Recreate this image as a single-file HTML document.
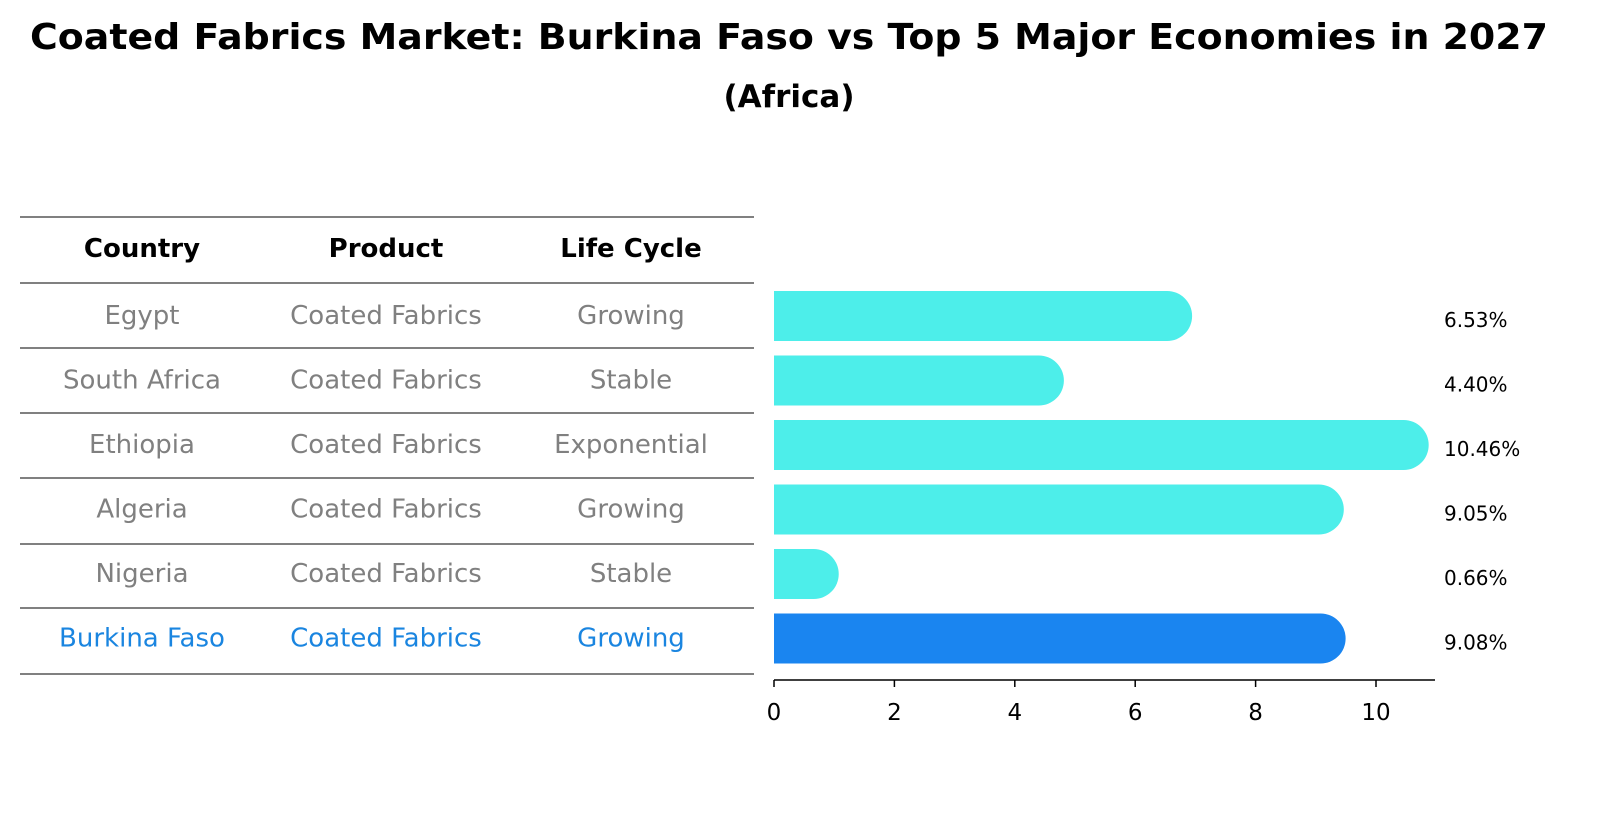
<!DOCTYPE html>
<html><head><meta charset="utf-8"><style>
body{margin:0;background:#fff;font-family:"Liberation Sans","DejaVu Sans",sans-serif}
</style></head><body>
<svg width="1605" height="823" xmlns="http://www.w3.org/2000/svg" font-family="DejaVu Sans, Liberation Sans, sans-serif">
<text x="789" y="49" text-anchor="middle" font-size="36" font-weight="bold" textLength="1518" lengthAdjust="spacingAndGlyphs">Coated Fabrics Market: Burkina Faso vs Top 5 Major Economies in 2027</text>
<text x="789" y="107" text-anchor="middle" font-size="31" font-weight="bold">(Africa)</text>
<g id="table"></g>
<g id="bars"></g>
<g id="axis"></g>
</svg>
<script>
const countries=["Egypt","South Africa","Ethiopia","Algeria","Nigeria","Burkina Faso"];
const products=["Coated Fabrics","Coated Fabrics","Coated Fabrics","Coated Fabrics","Coated Fabrics","Coated Fabrics"];
const lifeCycles=["Growing","Stable","Exponential","Growing","Stable","Growing"];
const values=[6.53,4.40,10.46,9.05,0.66,9.08];
const tickValues=[0,2,4,6,8,10];
const NS="http://www.w3.org/2000/svg";
function mk(t,a,p){const e=document.createElementNS(NS,t);for(const k in a)e.setAttribute(k,a[k]);p.appendChild(e);return e;}
const x=v=>774+v*60.2;
const rowY=i=>316+i*64.5;
const table=document.getElementById('table'),bars=document.getElementById('bars'),axis=document.getElementById('axis');
const lineYs=[217,283,348,413,478,544,608,674];
lineYs.forEach(y=>{const l=mk('line',{x1:20,x2:754,y1:y,y2:y,stroke:'#000','stroke-width':1},table);

});
const cols=[142,386,631];
["Country","Product","Life Cycle"].forEach((h,j)=>{const t=mk('text',{x:cols[j],y:257,'text-anchor':'middle','font-size':26,'font-weight':'bold'},table);t.textContent=h;

});
countries.forEach((c,i)=>{
 const col=i===countries.length-1?'#1a85e0':'#808080';
 [c,products[i],lifeCycles[i]].forEach((s,j)=>{const t=mk('text',{x:cols[j],y:rowY(i)+8,'text-anchor':'middle','font-size':26,fill:col},table);t.textContent=s;
 
 });
 const fill=i===countries.length-1?'#1a85f0':'#4deeea';
 const y0=rowY(i)-25,xe=x(values[i]);
 const p=mk('path',{d:`M774 ${y0} H${xe} A25 25 0 0 1 ${xe} ${y0+50} H774 Z`,fill:fill},bars);
 
 
 const t=mk('text',{x:1444,y:rowY(i)+11,'font-size':20},bars);t.textContent=values[i].toFixed(2)+'%';
 
 
});
mk('line',{x1:774,x2:1435,y1:680,y2:680,stroke:'#000','stroke-width':1.5},axis);
tickValues.forEach(v=>{mk('line',{x1:x(v),x2:x(v),y1:680,y2:687,stroke:'#000','stroke-width':1.5},axis);
const t=mk('text',{x:x(v),y:720,'text-anchor':'middle','font-size':23},axis);t.textContent=v;

});
</script>
</body></html>
